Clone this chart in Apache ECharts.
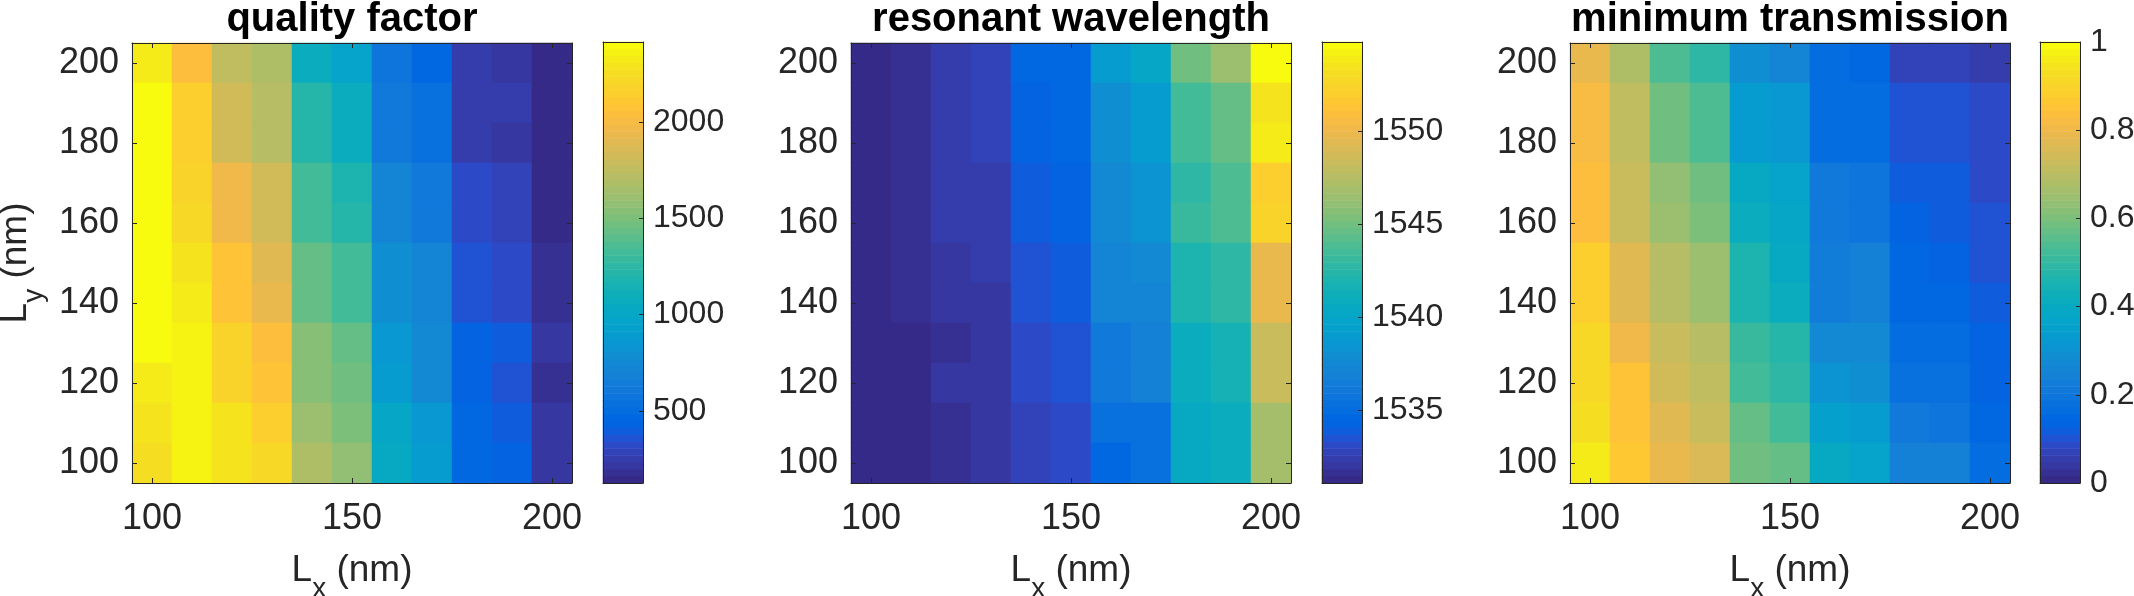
<!DOCTYPE html>
<html><head><meta charset="utf-8">
<style>html,body{margin:0;padding:0;background:#fff}#c{width:2134px;height:596px}</style>
<script src="https://cdn.jsdelivr.net/npm/echarts@6/dist/echarts.min.js"></script>
</head><body><div id="c"></div>
<script>
const lx = [100,110,120,130,140,150,160,170,180,190,200];
const ly = [200,190,180,170,160,150,140,130,120,110,100];

const quality = [
[2327,2040,1754,1682,1074,966,573,465,250,215,143],
[2398,2148,1826,1718,1217,1074,608,537,250,250,143],
[2398,2148,1826,1718,1217,1074,608,537,250,215,143],
[2398,2184,1969,1826,1324,1181,716,608,322,286,143],
[2398,2219,1969,1826,1324,1217,716,608,322,286,143],
[2398,2291,2076,1897,1432,1324,787,716,358,322,179],
[2398,2327,2076,1933,1432,1324,787,716,358,322,179],
[2398,2363,2184,2040,1539,1432,859,752,429,394,215],
[2327,2363,2184,2076,1539,1468,895,752,429,358,179],
[2291,2363,2291,2148,1611,1503,1002,859,465,394,215],
[2255,2363,2291,2219,1682,1575,1038,895,465,429,215]];

const wavelength = [
[1531.3,1531.6,1532.4,1532.8,1534.6,1534.6,1539.0,1540.2,1545.0,1546.5,1554.6],
[1531.3,1531.6,1532.4,1532.8,1534.2,1534.6,1537.9,1539.0,1543.5,1544.6,1553.5],
[1531.3,1531.6,1532.4,1532.8,1534.2,1534.6,1537.9,1539.0,1543.5,1544.6,1553.9],
[1531.3,1531.6,1532.4,1532.4,1533.9,1534.2,1537.6,1538.3,1542.8,1543.9,1552.0],
[1531.3,1531.6,1532.4,1532.4,1533.9,1534.2,1537.6,1538.3,1543.1,1543.9,1552.4],
[1531.3,1531.6,1532.0,1532.4,1533.5,1533.9,1537.2,1537.6,1542.0,1542.8,1549.8],
[1531.3,1531.6,1532.0,1532.0,1533.5,1533.9,1537.2,1537.2,1542.0,1542.8,1549.8],
[1531.3,1531.3,1531.6,1532.0,1533.1,1533.5,1536.1,1536.8,1540.9,1541.6,1548.3],
[1531.3,1531.3,1532.0,1532.0,1533.1,1533.5,1536.1,1536.8,1540.9,1541.6,1548.3],
[1531.3,1531.3,1531.6,1532.0,1532.8,1533.1,1535.3,1535.3,1540.5,1540.9,1546.8],
[1531.3,1531.3,1531.6,1532.0,1532.8,1533.1,1534.6,1535.3,1540.5,1540.9,1546.8]];

const transmission = [
[.789,.680,.539,.492,.289,.258,.164,.148,.070,.070,.055],
[.820,.711,.586,.539,.336,.320,.164,.164,.102,.102,.086],
[.820,.711,.586,.539,.336,.320,.164,.164,.102,.102,.086],
[.836,.727,.633,.586,.398,.367,.211,.195,.117,.117,.086],
[.836,.727,.648,.602,.414,.383,.211,.195,.133,.117,.102],
[.883,.773,.695,.648,.461,.398,.227,.242,.148,.133,.102],
[.883,.773,.695,.648,.461,.414,.227,.242,.148,.148,.117],
[.914,.805,.727,.695,.508,.477,.273,.273,.164,.164,.133],
[.914,.852,.742,.711,.523,.492,.305,.289,.180,.180,.133],
[.930,.852,.773,.727,.570,.523,.352,.336,.211,.195,.148],
[.961,.867,.789,.758,.586,.570,.398,.367,.242,.242,.164]];

const qualityTicks = [500,1000,1500,2000];
const wavelengthTicks = [1535,1540,1545,1550];
const transmissionTicks = [0,0.2,0.4,0.6,0.8,1];
const titles = ['quality factor','resonant wavelength','minimum transmission'];

const parula = [
[.2081,.1663,.5292],[.2116,.1898,.5777],[.2123,.2138,.6270],[.2081,.2386,.6771],
[.1959,.2645,.7279],[.1707,.2919,.7792],[.1253,.3242,.8303],[.0591,.3598,.8683],
[.0117,.3875,.8820],[.0060,.4086,.8828],[.0165,.4266,.8786],[.0329,.4430,.8720],
[.0498,.4586,.8641],[.0629,.4737,.8554],[.0723,.4887,.8467],[.0779,.5040,.8384],
[.0793,.5200,.8312],[.0749,.5375,.8263],[.0641,.5570,.8240],[.0488,.5772,.8228],
[.0343,.5966,.8199],[.0265,.6137,.8135],[.0239,.6287,.8038],[.0231,.6418,.7913],
[.0228,.6535,.7768],[.0267,.6642,.7607],[.0384,.6743,.7436],[.0590,.6838,.7254],
[.0843,.6928,.7062],[.1133,.7015,.6859],[.1453,.7098,.6646],[.1801,.7177,.6424],
[.2178,.7250,.6193],[.2586,.7317,.5954],[.3022,.7376,.5712],[.3482,.7424,.5473],
[.3953,.7459,.5244],[.4420,.7481,.5033],[.4871,.7491,.4840],[.5300,.7491,.4661],
[.5709,.7485,.4494],[.6099,.7473,.4337],[.6473,.7456,.4188],[.6834,.7435,.4044],
[.7184,.7411,.3905],[.7525,.7384,.3768],[.7858,.7356,.3633],[.8185,.7327,.3498],
[.8507,.7299,.3360],[.8824,.7274,.3217],[.9139,.7258,.3063],[.9450,.7261,.2886],
[.9739,.7314,.2666],[.9938,.7455,.2403],[.9990,.7653,.2164],[.9955,.7861,.1967],
[.9880,.8066,.1794],[.9789,.8271,.1633],[.9697,.8481,.1475],[.9626,.8705,.1309],
[.9589,.8949,.1132],[.9598,.9218,.0948],[.9661,.9514,.0755],[.9763,.9831,.0538]
].map(c => `rgb(${c.map(v => Math.round(v*255)).join(',')})`);

const INK = '#262626', FONT = '"Liberation Sans", Arial, sans-serif';
const panels = [
  {title:titles[0], values:quality,      ticks:qualityTicks,      cmin:125,     cmax:2416,    left:132,  width:440, barLeft:603,  barWidth:40},
  {title:titles[1], values:wavelength,   ticks:wavelengthTicks,   cmin:1531.08, cmax:1554.78, left:851,  width:440, barLeft:1322, barWidth:40},
  {title:titles[2], values:transmission, ticks:transmissionTicks, cmin:0,       cmax:1,       left:1570, width:440, barLeft:2040, barWidth:40}
];
const TOP = 43, HEIGHT = 440;
const levels = parula.map((_, i) => i);
const yCats = ly.slice().reverse().map(String);
const xCats = lx.map(String);
const nameRich = {
  n:{fontFamily:FONT,fontSize:37,color:INK},
  s:{fontFamily:FONT,fontSize:28,color:INK,padding:[36,0,0,0],verticalAlign:'bottom'}
};
const isTick = step => (i, v) => +v % step === 0;

const opt = {animation:false, backgroundColor:'#fff', title:[], grid:[], xAxis:[], yAxis:[], series:[], visualMap:[]};
function frameAxis(kind, gridIndex, data, position, extra){
  return Object.assign({type:'category', gridIndex, data, position, z:5,
    axisLine:{show:true, onZero:false, lineStyle:{color:INK,width:1}},
    axisTick:{show:false}, axisLabel:{show:false}, splitLine:{show:false}}, extra||{});
}
panels.forEach((p, k) => {
  const gMain = k*2, gBar = k*2+1;
  opt.title.push({text:p.title, left:p.left+p.width/2-5, top:-5, textAlign:'center',
    textStyle:{fontFamily:FONT,fontWeight:'bold',fontSize:40,color:'#000'}});
  opt.grid.push({left:p.left, width:p.width, top:TOP, height:HEIGHT, outerBoundsMode:'none'});
  opt.grid.push({left:p.barLeft, width:p.barWidth, top:TOP-1, height:HEIGHT+1, outerBoundsMode:'none'});

  const tickX = {show:true, inside:true, length:5, alignWithLabel:true, interval:isTick(50), lineStyle:{color:INK,width:1}};
  const tickY = {show:true, inside:true, length:5, alignWithLabel:true, interval:isTick(20), lineStyle:{color:INK,width:1}};
  const xi = opt.xAxis.length, yi = opt.yAxis.length;
  opt.xAxis.push(frameAxis('x', gMain, xCats, 'bottom', {
    axisTick:tickX, name:'{n|L}{s|x}{n| (nm)}', nameLocation:'middle', nameGap:56,
    nameTextStyle:{rich:nameRich},
    axisLabel:{show:true, interval:isTick(50), margin:18, fontFamily:FONT, fontSize:36, color:INK}}));
  opt.xAxis.push(frameAxis('x', gMain, xCats, 'top', {axisTick:tickX}));
  const yExtra = {axisTick:tickY,
    axisLabel:{show:true, interval:isTick(20), margin:13, fontFamily:FONT, fontSize:36, color:INK}};
  if (k === 0) Object.assign(yExtra, {name:'{n|L}{s|y}{n| (nm)}', nameLocation:'middle', nameGap:84,
    nameRotate:90, nameTextStyle:{rich:nameRich}});
  opt.yAxis.push(frameAxis('y', gMain, yCats, 'left', yExtra));
  opt.yAxis.push(frameAxis('y', gMain, yCats, 'right', {axisTick:tickY}));

  const cells = [];
  p.values.forEach((row, r) => row.forEach((v, c) => cells.push([c, ly.length-1-r, v])));
  const step = (p.cmax-p.cmin)/levels.length;
  const seriesStart = opt.series.length;
  opt.series.push({type:'heatmap', xAxisIndex:xi, yAxisIndex:yi, data:cells, silent:true, progressive:0});

  const bx = opt.xAxis.length, by = opt.yAxis.length;
  opt.xAxis.push(frameAxis('x', gBar, [''], 'bottom'));
  opt.xAxis.push(frameAxis('x', gBar, [''], 'top'));
  opt.yAxis.push(frameAxis('y', gBar, levels.map(String), 'left'));
  opt.yAxis.push({type:'value', gridIndex:gBar, position:'right', min:p.cmin, max:p.cmax, z:5,
    axisLine:{show:true, onZero:false, lineStyle:{color:INK,width:1}},
    splitLine:{show:false},
    axisTick:{show:true, inside:true, length:4, customValues:p.ticks, lineStyle:{color:INK,width:1}},
    axisLabel:{show:true, customValues:p.ticks, margin:10, fontFamily:FONT, fontSize:32, color:INK,
      formatter:v => String(v), showMinLabel:true, showMaxLabel:true}});
  opt.series.push({type:'heatmap', xAxisIndex:bx, yAxisIndex:by,
    data:levels.map(i => [0, i, p.cmin + (i+.5)*step]), silent:true, progressive:0});

  opt.visualMap.push({type:'piecewise', show:false, seriesIndex:[seriesStart, seriesStart+1], dimension:2,
    pieces:levels.map(i => ({min:p.cmin+i*step, max:p.cmin+(i+1)*step, color:parula[i]}))});
});
echarts.init(document.getElementById('c'), null, {renderer:'canvas'}).setOption(opt);
</script></body></html>
